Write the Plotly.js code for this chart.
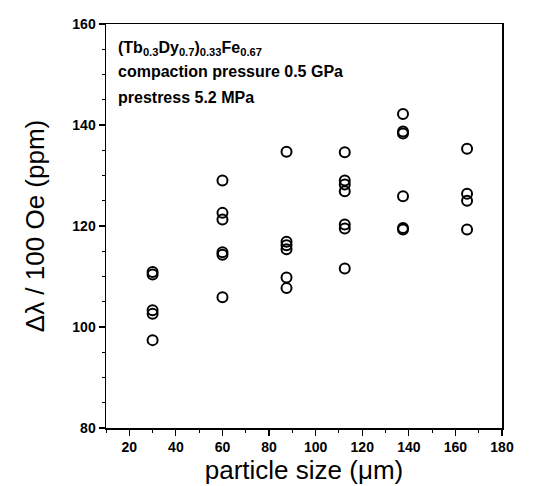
<!DOCTYPE html>
<html>
<head>
<meta charset="utf-8">
<script src="https://cdn.plot.ly/plotly-3.0.1.min.js"></script>
<style>html,body{margin:0;padding:0;background:#fff;}#chart{width:540px;height:486px;}</style>
</head>
<body>
<div id="chart"></div>
<script>
// particle size (um) and magnetostriction change per 100 Oe (ppm)
const particleSize = [
  30, 30, 30, 30, 30,
  60, 60, 60, 60, 60, 60,
  87.5, 87.5, 87.5, 87.5, 87.5, 87.5,
  112.5, 112.5, 112.5, 112.5, 112.5, 112.5, 112.5,
  137.5, 137.5, 137.5, 137.5, 137.5, 137.5,
  165, 165, 165, 165
];
const deltaLambda = [
  110.9, 110.4, 103.3, 102.6, 97.4,
  129.0, 122.6, 121.3, 114.8, 114.3, 105.9,
  134.7, 116.9, 116.2, 115.4, 109.8, 107.7,
  134.6, 129.0, 128.2, 126.9, 120.3, 119.5, 111.6,
  142.2, 138.7, 138.3, 125.9, 119.6, 119.3,
  135.3, 126.4, 125.0, 119.3
];
const xTickVals = [20, 40, 60, 80, 100, 120, 140, 160, 180];
const yTickVals = [80, 100, 120, 140, 160];
const noteLines = [
  "(Tb<sub>0.3</sub>Dy<sub>0.7</sub>)<sub>0.33</sub>Fe<sub>0.67</sub>",
  "compaction pressure 0.5 GPa",
  "prestress 5.2 MPa"
];

const trace = {
  x: particleSize,
  y: deltaLambda,
  type: 'scatter',
  mode: 'markers',
  marker: {symbol: 'circle-open', size: 10, color: '#000', line: {width: 2, color: '#000'}},
  hoverinfo: 'x+y'
};

const font = 'Arial, "Liberation Sans", sans-serif';
const noteY = [0.94, 0.883, 0.817];
const annotations = noteLines.map((t, i) => ({
  text: t, xref: 'paper', yref: 'paper', x: 0.026, y: noteY[i],
  xanchor: 'left', yanchor: 'middle', showarrow: false,
  font: {family: font, size: 16, color: '#000', weight: 'bold'}
}));

const axisCommon = {
  showline: true, linecolor: '#000', linewidth: 1.5, mirror: true,
  ticks: 'outside', ticklen: 6, tickwidth: 1.2, tickcolor: '#000',
  showgrid: false, zeroline: false,
  tickfont: {family: font, size: 14, color: '#000', weight: 'bold'},
  minor: {ticks: 'outside', ticklen: 3, tickwidth: 1, tickcolor: '#000'}
};

const layout = {
  width: 540, height: 486,
  margin: {l: 106, r: 38, t: 24, b: 58},
  paper_bgcolor: '#fff', plot_bgcolor: '#fff',
  showlegend: false,
  xaxis: Object.assign({}, axisCommon, {
    range: [10, 180], tickvals: xTickVals, ticktext: xTickVals.map(String),
    minor: Object.assign({}, axisCommon.minor, {dtick: 10, tick0: 0}),
    title: {text: 'particle size (μm)', font: {family: font, size: 26, color: '#000'}, standoff: 5}
  }),
  yaxis: Object.assign({}, axisCommon, {
    range: [80, 160], tickvals: yTickVals, ticktext: yTickVals.map(String),
    minor: Object.assign({}, axisCommon.minor, {dtick: 5, tick0: 0}),
    title: {text: 'Δλ / 100 Oe (ppm)', font: {family: font, size: 26, color: '#000'}, standoff: 20}
  }),
  annotations: annotations
};

Plotly.newPlot('chart', [trace], layout, {displayModeBar: false, staticPlot: true});
</script>
</body>
</html>
